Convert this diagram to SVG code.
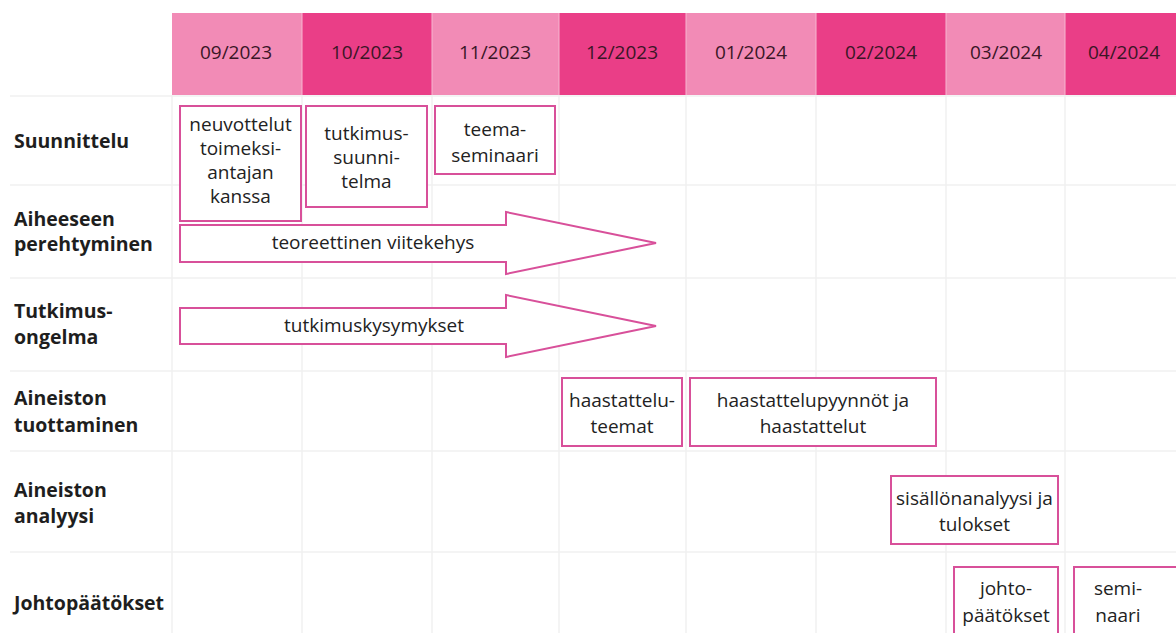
<svg xmlns="http://www.w3.org/2000/svg" width="1176" height="633" viewBox="0 0 1176 633">
  <style>
    .hdr-light { fill: #f28bb6; }
    .hdr-dark { fill: #ea3e87; }
    .hdr-text { font-family: "Open Sans", "Noto Sans", sans-serif; font-size: 19px; fill: #3a1626; text-anchor: middle; }
    .row-label { font-family: "Open Sans", "Noto Sans", sans-serif; font-size: 19.5px; font-weight: bold; fill: #1e1e1e; }
    .grid { stroke: #f1f1f1; stroke-width: 1.5; fill: none; }
    .task { fill: #ffffff; stroke: #d8509a; stroke-width: 2; }
    .task-text { font-family: "Open Sans", "Noto Sans", sans-serif; font-size: 19px; fill: #222222; text-anchor: middle; }
  </style>

  <rect width="1176" height="633" fill="#ffffff"/>

  <!-- grid -->
  <g id="grid">
    <line class="grid" x1="172" y1="95" x2="172" y2="633"/>
    <line class="grid" x1="302" y1="95" x2="302" y2="633"/>
    <line class="grid" x1="432" y1="95" x2="432" y2="633"/>
    <line class="grid" x1="559" y1="95" x2="559" y2="633"/>
    <line class="grid" x1="686" y1="95" x2="686" y2="633"/>
    <line class="grid" x1="816" y1="95" x2="816" y2="633"/>
    <line class="grid" x1="946" y1="95" x2="946" y2="633"/>
    <line class="grid" x1="1065" y1="95" x2="1065" y2="633"/>
    <line class="grid" x1="10" y1="96" x2="1176" y2="96"/>
    <line class="grid" x1="10" y1="185" x2="1176" y2="185"/>
    <line class="grid" x1="10" y1="278" x2="1176" y2="278"/>
    <line class="grid" x1="10" y1="371" x2="1176" y2="371"/>
    <line class="grid" x1="10" y1="451" x2="1176" y2="451"/>
    <line class="grid" x1="10" y1="552" x2="1176" y2="552"/>
  </g>

  <!-- month header -->
  <g id="header">
    <rect class="hdr-light" x="172" y="13" width="130" height="82"/>
    <rect class="hdr-dark" x="302" y="13" width="130" height="82"/>
    <rect class="hdr-light" x="432" y="13" width="127" height="82"/>
    <rect class="hdr-dark" x="559" y="13" width="127" height="82"/>
    <rect class="hdr-light" x="686" y="13" width="130" height="82"/>
    <rect class="hdr-dark" x="816" y="13" width="130" height="82"/>
    <rect class="hdr-light" x="946" y="13" width="119" height="82"/>
    <rect class="hdr-dark" x="1065" y="13" width="111" height="82"/>
    <line x1="302" y1="13" x2="302" y2="95" stroke="#f7b5d0" stroke-width="1"/>
    <line x1="432" y1="13" x2="432" y2="95" stroke="#f7b5d0" stroke-width="1"/>
    <line x1="559" y1="13" x2="559" y2="95" stroke="#f7b5d0" stroke-width="1"/>
    <line x1="686" y1="13" x2="686" y2="95" stroke="#f7b5d0" stroke-width="1"/>
    <line x1="816" y1="13" x2="816" y2="95" stroke="#f7b5d0" stroke-width="1"/>
    <line x1="946" y1="13" x2="946" y2="95" stroke="#f7b5d0" stroke-width="1"/>
    <line x1="1065" y1="13" x2="1065" y2="95" stroke="#f7b5d0" stroke-width="1"/>
    <text class="hdr-text" x="236" y="59">09/2023</text>
    <text class="hdr-text" x="367" y="59">10/2023</text>
    <text class="hdr-text" x="495" y="59">11/2023</text>
    <text class="hdr-text" x="622" y="59">12/2023</text>
    <text class="hdr-text" x="751" y="59">01/2024</text>
    <text class="hdr-text" x="881" y="59">02/2024</text>
    <text class="hdr-text" x="1006" y="59">03/2024</text>
    <text class="hdr-text" x="1124" y="59">04/2024</text>
  </g>

  <!-- phase labels -->
  <g id="labels">
    <text class="row-label" x="14" y="148">Suunnittelu</text>
    <text class="row-label" x="14" y="226">Aiheeseen</text>
    <text class="row-label" x="14" y="251">perehtyminen</text>
    <text class="row-label" x="14" y="318">Tutkimus-</text>
    <text class="row-label" x="14" y="344">ongelma</text>
    <text class="row-label" x="14" y="405">Aineiston</text>
    <text class="row-label" x="14" y="432">tuottaminen</text>
    <text class="row-label" x="14" y="497">Aineiston</text>
    <text class="row-label" x="14" y="523">analyysi</text>
    <text class="row-label" x="14" y="610">Johtopäätökset</text>
  </g>

  <!-- tasks -->
  <g id="neuvottelut">
    <rect class="task" x="180" y="106" width="121" height="115"/>
    <text class="task-text" x="240.5" y="131">neuvottelut</text>
    <text class="task-text" x="240.5" y="155">toimeksi-</text>
    <text class="task-text" x="240.5" y="179">antajan</text>
    <text class="task-text" x="240.5" y="203">kanssa</text>
  </g>
  <g id="tutkimussuunnitelma">
    <rect class="task" x="306" y="106" width="121" height="101"/>
    <text class="task-text" x="366.5" y="140">tutkimus-</text>
    <text class="task-text" x="366.5" y="164">suunni-</text>
    <text class="task-text" x="366.5" y="188">telma</text>
  </g>
  <g id="teemaseminaari">
    <rect class="task" x="435" y="106" width="120" height="68"/>
    <text class="task-text" x="495" y="136">teema-</text>
    <text class="task-text" x="495" y="162">seminaari</text>
  </g>
  <g id="viitekehys">
    <polygon class="task" points="180,225 506,225 506,212 656,243 506,274 506,262 180,262"/>
    <text class="task-text" x="373" y="249">teoreettinen viitekehys</text>
  </g>
  <g id="tutkimuskysymykset">
    <polygon class="task" points="180,308 506,308 506,295 656,326 506,357 506,344 180,344"/>
    <text class="task-text" x="374" y="332">tutkimuskysymykset</text>
  </g>
  <g id="haastatteluteemat">
    <rect class="task" x="562" y="378" width="120" height="68"/>
    <text class="task-text" x="622" y="407">haastattelu-</text>
    <text class="task-text" x="622" y="433">teemat</text>
  </g>
  <g id="haastattelut">
    <rect class="task" x="690" y="378" width="246" height="68"/>
    <text class="task-text" x="813" y="407">haastattelupyynnöt ja</text>
    <text class="task-text" x="813" y="433">haastattelut</text>
  </g>
  <g id="sisallonanalyysi">
    <rect class="task" x="891" y="476" width="167" height="68"/>
    <text class="task-text" x="974.5" y="505">sisällönanalyysi ja</text>
    <text class="task-text" x="974.5" y="531">tulokset</text>
  </g>
  <g id="johtopaatokset">
    <rect class="task" x="954" y="567" width="104" height="80"/>
    <text class="task-text" x="1006" y="595">johto-</text>
    <text class="task-text" x="1006" y="622">päätökset</text>
  </g>
  <g id="seminaari">
    <rect class="task" x="1074" y="567" width="110" height="80"/>
    <text class="task-text" x="1118" y="595">semi-</text>
    <text class="task-text" x="1118" y="622">naari</text>
  </g>
</svg>
